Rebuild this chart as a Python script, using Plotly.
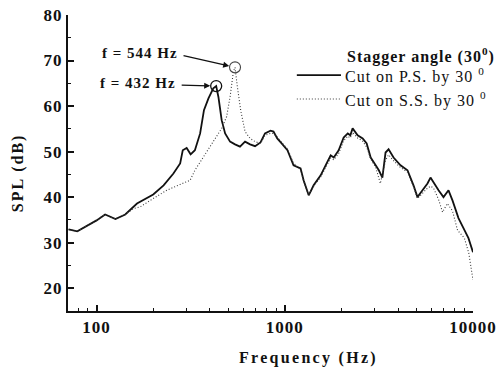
import numpy as np
import plotly.graph_objects as go

# ---- data ----
freq_ps = [71, 79, 100, 111, 126, 142, 164, 181, 200, 227, 256, 278, 287, 301, 316, 333, 355, 372, 393, 417, 432,
           444, 462, 482, 512, 544, 578, 615, 654, 695, 743, 785, 809, 840, 871, 912, 962, 1033, 1113, 1213, 1259,
           1340, 1423, 1551, 1648, 1753, 1820, 1933, 2055, 2161, 2230, 2293, 2438, 2593, 2723, 2860, 3040, 3160,
           3300, 3430, 3560, 3783, 4120, 4487, 4830, 5070, 5390, 5730, 5945, 6170, 6560, 6970, 7410, 7780, 8370,
           8900, 9460, 10000]
spl_ps = [32.9, 32.5, 34.9, 36.2, 35.2, 36.2, 38.6, 39.6, 40.6, 42.6, 45.2, 47.4, 50.3, 50.8, 49.4, 50.3, 54.0,
          59.1, 61.7, 63.9, 64.4, 62.0, 56.9, 54.0, 52.2, 51.6, 51.1, 52.2, 51.6, 51.2, 52.0, 54.0, 54.2, 54.6, 54.4,
          52.9, 51.8, 50.3, 47.0, 46.3, 43.7, 40.4, 42.6, 44.8, 47.0, 49.2, 48.7, 50.3, 53.1, 54.0, 53.6, 55.1, 53.6,
          52.9, 51.8, 48.7, 47.0, 45.9, 44.3, 49.8, 50.5, 48.7, 47.0, 45.9, 42.6, 40.0, 41.5, 43.0, 44.3, 43.2, 41.5,
          40.0, 41.5, 39.3, 35.4, 33.2, 31.0, 27.9]

freq_ss = [71, 79, 100, 111, 126, 142, 157, 171, 200, 236, 278, 314, 333, 370, 409, 462, 491, 512, 533, 544,
           560, 583, 615, 654, 695, 743, 785, 809, 840, 871, 912, 962, 1033, 1113, 1213, 1259, 1340, 1423, 1551,
           1648, 1753, 1820, 1933, 2055, 2161, 2230, 2293, 2438, 2593, 2723, 2860, 3040, 3220, 3430, 3560, 3783,
           4120, 4487, 4830, 5070, 5390, 5730, 5945, 6170, 6560, 6890, 7300, 7780, 8280, 9000, 9500, 10000]
spl_ss = [32.9, 32.5, 34.9, 36.2, 35.2, 36.2, 37.5, 37.9, 39.7, 41.5, 42.8, 43.7, 45.9, 48.9, 51.8, 55.1, 57.7,
          62.0, 67.5, 68.5, 64.2, 59.1, 54.4, 52.9, 52.2, 51.8, 53.6, 53.8, 54.0, 54.0, 53.2, 52.0, 50.6, 47.5,
          46.0, 43.5, 40.4, 42.4, 44.4, 46.5, 48.6, 48.2, 49.6, 52.4, 53.4, 53.0, 54.2, 53.0, 52.3, 51.0, 48.4,
          46.6, 43.0, 48.1, 49.3, 48.0, 46.5, 45.5, 42.3, 39.7, 40.8, 42.0, 42.4, 42.0, 39.5, 36.7, 38.6, 37.0,
          32.7, 31.0, 27.7, 21.8]

peak_freq = [432, 544]
peak_spl = [64.4, 68.5]
peak_labels = ["f = 432 Hz", "f = 544 Hz"]

x_ticks = [100, 1000, 10000]
y_ticks = [20, 30, 40, 50, 60, 70, 80]

serif = "Liberation Serif, Times New Roman, serif"
INK = "#111111"
DOT_STYLE = dict(color="#3a3a3a", width=1.1, dash="1px,2px")


def spaced(t, px):
    return '<span style="letter-spacing:%spx">%s</span>' % (px, t)


fig = go.Figure()
fig.add_trace(go.Scatter(x=freq_ps, y=spl_ps, mode="lines",
                         line=dict(color=INK, width=1.8), showlegend=False))
fig.add_trace(go.Scatter(x=freq_ss, y=spl_ss, mode="lines", line=DOT_STYLE, showlegend=False))
# peak circles
fig.add_trace(go.Scatter(x=[peak_freq[0]], y=[peak_spl[0]], mode="markers",
                         marker=dict(symbol="circle-open", size=11, color=INK, line=dict(width=1.3)),
                         showlegend=False))
fig.add_trace(go.Scatter(x=[peak_freq[1]], y=[peak_spl[1]], mode="markers",
                         marker=dict(symbol="circle-open", size=11, color="#444444", line=dict(width=1.1)),
                         showlegend=False))

# arrows to peaks
arrow_offsets = [(-36, -1), (-53, -12)]
for f, s, (ax, ay) in zip(peak_freq, peak_spl, arrow_offsets):
    fig.add_annotation(x=np.log10(f), y=s, xref="x", yref="y", text="", showarrow=True,
                       ax=ax, ay=ay, arrowhead=2, arrowsize=1, arrowwidth=1.2,
                       arrowcolor=INK, standoff=6)

# peak labels
label_pos = [(0.272, 0.770), (0.277, 0.872)]
for lab, (px, py) in zip(peak_labels, label_pos):
    fig.add_annotation(x=px, y=py, xref="paper", yref="paper", xanchor="right", yanchor="middle",
                       text="<b>" + spaced(lab, 1) + "</b>", showarrow=False,
                       font=dict(family=serif, size=15, color=INK))

# manual legend
fig.add_annotation(x=0.684, y=0.862, xref="paper", yref="paper", xanchor="left", yanchor="middle",
                   text="<b>" + spaced("Stagger angle (30<sup>0</sup>)", 1) + "</b>", showarrow=False,
                   font=dict(family=serif, size=16, color=INK))
leg_names = ["Cut on P.S. by 30 <sup>0</sup>", "Cut on S.S. by 30 <sup>0</sup>"]
leg_y = [0.797, 0.716]
leg_styles = [dict(color=INK, width=1.8), DOT_STYLE]
for name, yy, st in zip(leg_names, leg_y, leg_styles):
    fig.add_shape(type="line", xref="paper", yref="paper", x0=0.565, x1=0.674, y0=yy, y1=yy, line=st)
    fig.add_annotation(x=0.680, y=yy, xref="paper", yref="paper", xanchor="left", yanchor="middle",
                       text=spaced(name, 1), showarrow=False, font=dict(family=serif, size=16, color=INK))

# axis titles
fig.add_annotation(x=0.593, y=-0.159, xref="paper", yref="paper", xanchor="center", yanchor="middle",
                   text="<b>" + spaced("Frequency (Hz)", 2.3) + "</b>", showarrow=False,
                   font=dict(family=serif, size=16, color=INK))
fig.add_annotation(x=-0.123, y=0.466, xref="paper", yref="paper", xanchor="center", yanchor="middle",
                   text="<b>" + spaced("SPL (dB)", 2) + "</b>", showarrow=False, textangle=-90,
                   font=dict(family=serif, size=16, color=INK))

minor_x = [v * m for v in (10, 100, 1000) for m in range(2, 10) if 70 <= v * m <= 10000]

fig.update_xaxes(type="log", range=[np.log10(70.5), 4.0], tickvals=x_ticks,
                 ticktext=[spaced(str(v), 1) for v in x_ticks], ticks="inside", ticklen=6, tickwidth=1.5,
                 tickcolor=INK, showline=True, linecolor=INK, linewidth=2,
                 showgrid=False, zeroline=False, mirror=False, automargin=False,
                 minor=dict(tickvals=minor_x, ticks="inside", ticklen=3, tickwidth=1.2, tickcolor=INK,
                            showgrid=False),
                 tickfont=dict(family=serif, size=17, color=INK, weight="bold"))
fig.update_yaxes(range=[15, 80], tickvals=y_ticks, ticktext=[spaced(str(v), 1) for v in y_ticks],
                 ticks="inside", ticklen=6, tickwidth=1.5,
                 tickcolor=INK, showline=True, linecolor=INK, linewidth=2,
                 showgrid=False, zeroline=False, automargin=False,
                 minor=dict(dtick=5, tick0=0, ticks="inside", ticklen=3, tickwidth=1.2, tickcolor=INK,
                            showgrid=False),
                 tickfont=dict(family=serif, size=17, color=INK, weight="bold"))

fig.update_layout(width=502, height=371, margin=dict(l=68, r=29, t=15, b=60, autoexpand=False),
                  plot_bgcolor="white", paper_bgcolor="white", showlegend=False)

fig.write_html("out.html", config={"displayModeBar": False},
               post_script="document.body.style.margin='0';document.body.style.padding='0';"
                           "document.documentElement.style.overflow='hidden';")
